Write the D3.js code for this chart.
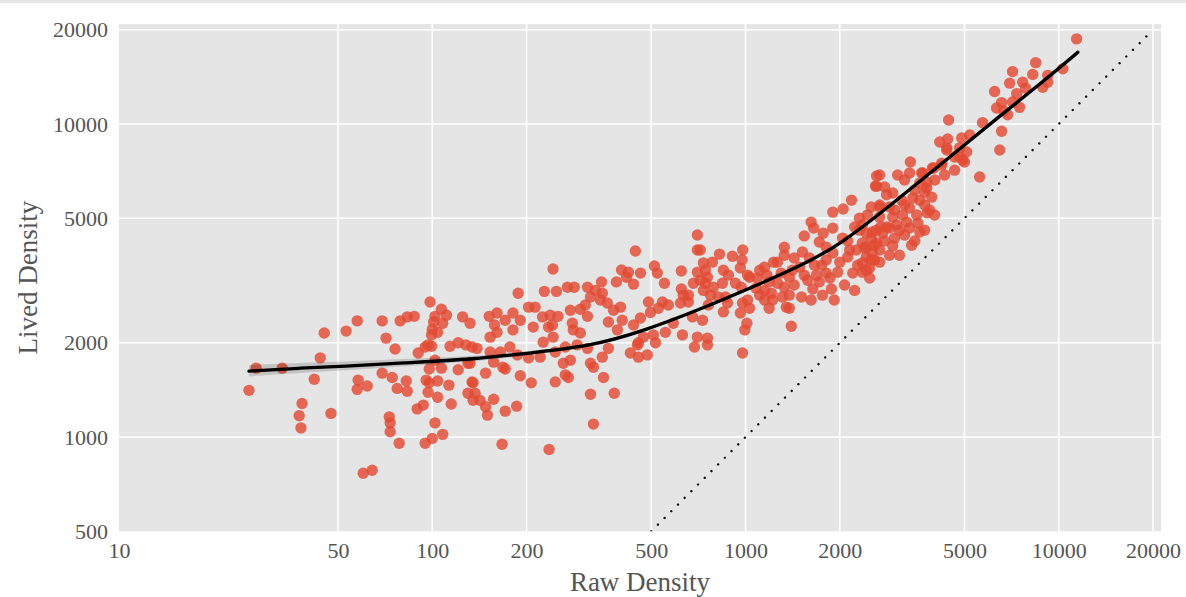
<!DOCTYPE html>
<html>
<head>
<meta charset="utf-8">
<script src="https://cdn.jsdelivr.net/npm/d3@7"></script>
<style>
  html, body { margin: 0; padding: 0; background: #ffffff; }
  svg { display: block; }
</style>
</head>
<body>
<svg id="chart" width="1186" height="597"></svg>
<script>
// ---------------- DATA ----------------
const xTicks = [10, 50, 100, 200, 500, 1000, 2000, 5000, 10000, 20000];
const yTicks = [500, 1000, 2000, 5000, 10000, 20000];
const xTitle = "Raw Density";
const yTitle = "Lived Density";

// scatter: raw density (x) and lived density (y)
const rawDensity = [
  26,27.4,33.2,38.4,37.6,38.1,42,43.9,45.2,47.5,53.1,57.6,58,57.6,62,60.2,64.3,69.2,71.2,76.1,
  69.2,74.5,77.3,82.6,83.2,79,83.2,87.6,72.9,73.4,73.4,78.4,89.5,93.6,102,108,100,94.9,98.4,107,
  111,102,101,108,100,104,99.5,97,94.9,90.2,99.5,102,97.8,107,121,125,132,114,121,128,
  130,134,95.6,97.8,104,97,104,113,115,130,134,135,
  702,702,445,243,188,228,249,270,284,313,347,387,402,423,417,439,462,512,523,551,
  624,702,682,624,657,734,745,152,161,158,171,181,191,181,153,161,203,213,210,225,
  238,252,235,242,276,297,308,320,332,349,362,344,313,280,282,297,365,379,399,404,
  390,439,462,490,497,527,567,543,620,633,657,677,729,588,555,508,472,455,516,629,
  702,756,687,756,139,153,165,177,187,203,221,226,243,247,266,290,313,349,365,429,
  455,486,452,132,157,168,171,148,191,207,247,262,276,266,272,320,327,352,320,381,
  327,135,137,142,148,150,157,171,186,167,236,
  2600,2180,2050,1900,1620,1650,1900,1770,1540,1720,1810,2040,2230,2360,2540,2520,2680,1330,1330,1520,
  1600,1660,1490,1410,1380,1300,1230,1150,1110,1170,1090,1030,1080,1150,1210,1265,1330,1380,1510,1620,
  1760,1880,1640,1580,1685,1810,1970,2000,2120,2200,2360,2490,2260,2430,2580,1900,1810,980,975,908,
  826,784,850,882,963,1015,929,970,745,756,717,790,844,734,773,820,863,876,850,761,
  963,978,1015,1030,1150,1190,1220,1350,1380,1310,1010,995,1400,978,717,
  3360,2620,2620,3060,3340,3220,3650,3990,4230,4390,4820,5000,6480,5590,3790,3730,3930,3600,3870,3800,
  3520,3550,3270,3340,3420,3150,2950,2820,2880,2680,2680,2950,3170,3040,2820,2620,2430,2520,2310,2360,
  2620,2740,2680,2540,2430,2520,2360,2430,2950,2700,3220,3470,2990,3730,3100,4015,
  11400,8440,8260,7120,6970,7670,7840,7340,6240,6570,6330,6670,6870,7500,7120,9220,8890,9220,10300,5710,
  6570,4450,5200,4900,4420,4170,4390,4820,5080,4930,4650,4230,3950,3680,3600,3790,2780,2680,
  2400,2580,2780,2880,3100,3340,3600,3390,2880,2680,2490,2280,2150,2120,2990,3220,3470,4020,4320,4650,
  3730,2450,2310,
  1430,1540,1720,1860,1750,1265,1190,1110,1430,1920,2070,2230
];
const livedDensity = [
  1410,1660,1660,1280,1170,1070,1530,1790,2150,1190,2180,2350,1520,1420,1455,766,783,2350,2070,1910,
  1600,1550,1430,1510,1400,2350,2420,2430,1160,1110,1040,955,1230,1265,1110,1020,990,955,2700,2560,
  2450,2430,2330,2310,2210,2160,2120,1970,1940,1855,1950,1760,1650,1660,1640,2420,2310,1950,2000,1970,
  1720,1940,1520,1490,1510,1390,1340,1465,1275,1380,1500,1310,
  4420,3960,3930,3440,2880,2920,2920,3010,3010,3010,3130,3130,3415,3360,3240,3080,3340,3520,3340,3100,
  3390,3360,3100,2970,2840,3600,3100,2430,2490,2280,2360,2490,2360,2200,2085,2160,2600,2600,2245,2420,
  2450,2430,2245,2280,2540,2560,2640,2800,2940,2880,2680,2740,2430,2310,2200,2150,2330,2540,2600,2360,
  2200,2280,2400,2700,2500,2580,2640,2700,2680,2840,2700,2420,2360,2310,2160,2120,2085,2000,2000,2120,
  2085,2070,1940,1970,1920,1870,1870,1940,1830,1790,1800,2010,2085,1870,1940,1970,1920,1800,1920,1855,
  1800,1830,1970,1720,1735,1670,1650,1600,1570,1490,1500,1720,1760,1580,1550,1720,1670,1550,1370,1380,
  1100,1490,1380,1310,1250,1175,1320,1210,1255,948,913,
  6330,5710,5350,5230,4860,4650,4650,4480,4390,4200,4040,4320,4690,4760,4520,5430,5510,4040,3810,3900,
  3730,3540,3490,3410,3240,3340,3620,3490,3410,3290,3220,3240,2990,2940,2880,3100,3010,2840,2800,2740,
  2840,2970,2970,3170,3290,3340,3360,3620,3760,3340,3360,3470,3960,4040,3680,3870,3680,3960,3680,3780,
  3840,3620,3410,3290,3470,3290,3100,3010,3410,3240,3170,3010,3100,2940,2840,2800,2800,2680,2510,2640,
  2490,2680,2740,2580,2740,2580,2740,2600,2580,2800,2310,2200,2260,1855,3960,
  7560,6820,6330,6870,6970,6620,6970,7230,7390,8260,7840,7560,8260,6770,6520,6060,5840,5710,5310,5200,
  5120,4830,4860,5390,5800,5710,6020,5940,5430,5430,5040,5040,5120,4760,4690,4580,4480,4320,4580,4165,
  4165,4480,3960,3870,3760,3680,3600,3410,4080,4690,4420,4230,4320,4580,3810,5120,
  18700,15700,14400,14700,13500,13600,13000,12500,12700,11700,11250,11000,10700,11300,11750,14300,13100,13600,15000,10100,
  9480,10300,9220,9020,8950,8760,8390,8390,8140,7670,7840,7500,7230,6970,6480,6240,6290,6870,
  4015,4100,4230,4650,4580,4650,4520,4100,3810,3620,3220,3540,3960,4230,5310,5510,6150,6620,6870,7120,
  5510,5120,5000,
  3730,3290,3130,3220,3540,3620,3130,2840,3060,2740,3060,2940
];

// fitted curve (black) with its confidence band
const fitX    = [26, 37.9, 54.7, 79, 137, 206, 320, 462, 718, 1033, 1500, 2012, 2698, 3126, 4864, 6530, 8770, 11510];
const fitY    = [1625, 1661, 1686, 1723, 1774, 1856, 1952, 2163, 2560, 2990, 3516, 4133, 5195, 5841, 8380, 10660, 13490, 16940];
const fitLow  = [1562, 1605, 1637, 1681, 1739, 1829, 1929, 2142, 2535, 2960, 3481, 4092, 5144, 5772, 8264, 10492, 13252, 16608];
const fitHigh = [1700, 1725, 1745, 1772, 1812, 1886, 1975, 2185, 2586, 3020, 3551, 4174, 5247, 5911, 8497, 10831, 13733, 17279];

// identity reference line (dotted)
const identity = [500, 19500];

// ---------------- CHART ----------------
const svg = d3.select("#chart");
const W = 1186, H = 597;
const plot = { left: 119, right: 1161, top: 24, bottom: 531.3 };

const x = d3.scaleLog().domain([10, 21200]).range([plot.left, plot.right]);
const y = d3.scaleLog().domain([500, 20860]).range([plot.bottom, plot.top]);

// top strip
svg.append("rect").attr("x", 0).attr("y", 0).attr("width", W).attr("height", 3).attr("fill", "#e6e6e6");

// plot background
svg.append("rect")
  .attr("x", plot.left).attr("y", plot.top)
  .attr("width", plot.right - plot.left).attr("height", plot.bottom - plot.top)
  .attr("fill", "#e5e5e5");

// grid
const grid = svg.append("g");
grid.selectAll("line.gx").data(xTicks.filter(d => d > 10)).join("line")
  .attr("x1", d => x(d)).attr("x2", d => x(d))
  .attr("y1", plot.top).attr("y2", plot.bottom)
  .attr("stroke", "#ffffff").attr("stroke-width", 1.5);
grid.selectAll("line.gy").data(yTicks.filter(d => d > 500)).join("line")
  .attr("x1", plot.left).attr("x2", plot.right)
  .attr("y1", d => y(d)).attr("y2", d => y(d))
  .attr("stroke", "#ffffff").attr("stroke-width", 1.5);

// clip
svg.append("clipPath").attr("id", "clip").append("rect")
  .attr("x", plot.left).attr("y", plot.top)
  .attr("width", plot.right - plot.left).attr("height", plot.bottom - plot.top);
const body = svg.append("g").attr("clip-path", "url(#clip)");

// points
const pts = rawDensity.map((d, i) => ({ x: d, y: livedDensity[i] }));
body.append("g").selectAll("circle").data(pts).join("circle")
  .attr("cx", d => x(d.x)).attr("cy", d => y(d.y)).attr("r", 5.7)
  .attr("fill", "#E24A33").attr("fill-opacity", 0.82);

// confidence band
const band = fitX.map((d, i) => ({ x: d, lo: fitLow[i], hi: fitHigh[i] }));
body.append("path").datum(band)
  .attr("d", d3.area().x(d => x(d.x)).y0(d => y(d.lo)).y1(d => y(d.hi)).curve(d3.curveBasis))
  .attr("fill", "#000").attr("fill-opacity", 0.15);

// fit line
const fit = fitX.map((d, i) => ({ x: d, y: fitY[i] }));
body.append("path").datum(fit)
  .attr("d", d3.line().x(d => x(d.x)).y(d => y(d.y)).curve(d3.curveBasis))
  .attr("fill", "none").attr("stroke", "#000").attr("stroke-width", 3.3)
  .attr("stroke-linecap", "round");

// identity dotted line
body.append("line")
  .attr("x1", x(identity[0])).attr("y1", y(identity[0]))
  .attr("x2", x(identity[1])).attr("y2", y(identity[1]))
  .attr("stroke", "#111").attr("stroke-width", 2.4)
  .attr("stroke-linecap", "round")
  .attr("stroke-dasharray", "0.01 9.45");

// axes
const fmt = d3.format("d");
const xAxis = svg.append("g").attr("transform", `translate(0,${plot.bottom})`)
  .call(d3.axisBottom(x).tickValues(xTicks).tickFormat(fmt).tickSize(0).tickPadding(11));
const yAxis = svg.append("g").attr("transform", `translate(${plot.left},0)`)
  .call(d3.axisLeft(y).tickValues(yTicks).tickFormat(fmt).tickSize(0).tickPadding(11));
[xAxis, yAxis].forEach(a => {
  a.select(".domain").remove();
  a.selectAll("text")
    .attr("font-family", "'Liberation Serif', 'Times New Roman', serif")
    .attr("font-size", 22).attr("fill", "#555");
});

// titles
svg.append("text").attr("x", (plot.left + plot.right) / 2).attr("y", 591)
  .attr("text-anchor", "middle")
  .attr("font-family", "'Liberation Serif', 'Times New Roman', serif")
  .attr("font-size", 27).attr("fill", "#555").text(xTitle);
svg.append("text")
  .attr("transform", `translate(37,${(plot.top + plot.bottom) / 2}) rotate(-90)`)
  .attr("text-anchor", "middle")
  .attr("font-family", "'Liberation Serif', 'Times New Roman', serif")
  .attr("font-size", 27).attr("fill", "#555").text(yTitle);
</script>
</body>
</html>
